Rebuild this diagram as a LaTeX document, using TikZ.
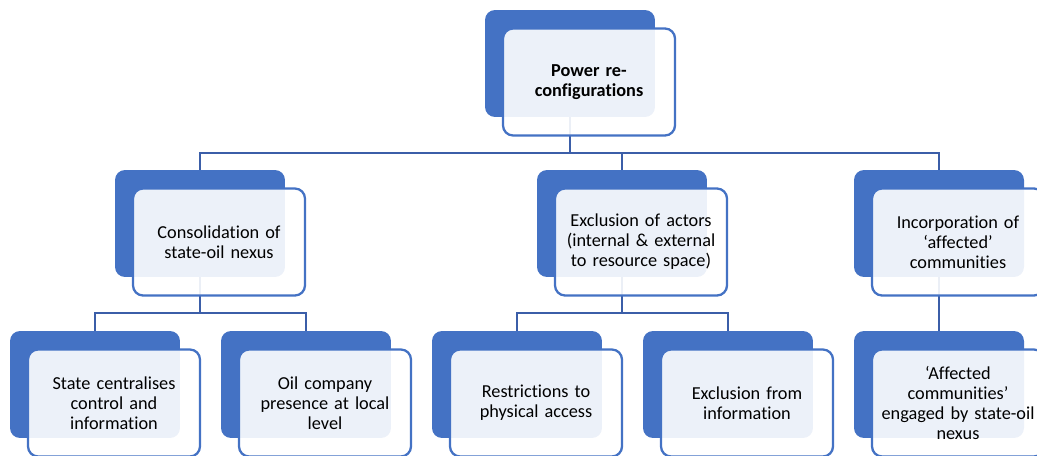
\documentclass[tikz,border=0pt]{standalone}
\usepackage{fontspec}
\setmainfont{Carlito}[Ligatures=NoCommon]
\usepackage{xcolor}
\usetikzlibrary{backgrounds}

\definecolor{accent}{HTML}{4472C4}
\definecolor{linkblue}{HTML}{3B5EA8}

\tikzset{
  backbox/.style={fill=accent, rounded corners=0.2cm, inner sep=0pt,
    minimum width=3.4cm, minimum height=2.14cm},
  frontbox/.style={draw=accent, line width=1.3pt, fill=white, fill opacity=0.9,
    text opacity=1, rounded corners=0.2cm, inner sep=0pt,
    minimum width=3.44cm, minimum height=2.14cm, text width=3.1cm, align=center,
    font=\fontsize{10.4}{11.4}\selectfont},
  rootbox/.style={frontbox, font=\fontsize{10.4}{11.4}\selectfont\bfseries},
  link/.style={draw=linkblue, line width=1.3pt}
}

\begin{document}
\begin{tikzpicture}[x=0.02cm, y=-0.02cm]
\useasboundingbox (0,0) rectangle (1037,456);

% top
\node[backbox] (root-b) at (570,63.5) {};
\node[rootbox] (root) at (589,82) {Power re-\\configurations};

% second row
\node[backbox] (cons-b) at (200,223.5) {};
\node[frontbox] (cons) at (219,242) {Consolidation of\\state-oil nexus};
\node[backbox] (excl-b) at (622,223.5) {};
\node[frontbox] (excl) at (641,242) {Exclusion of actors\\(internal \& external\\to resource space)};
\node[backbox] (inc-b) at (939,223.5) {};
\node[frontbox] (inc) at (958,242) {Incorporation of\\`affected'\\communities};

% third row
\node[backbox] (state-b) at (95,384.5) {};
\node[frontbox] (state) at (114,403) {State centralises\\control and\\information};
\node[backbox] (oil-b) at (306,384.5) {};
\node[frontbox] (oil) at (325,403) {Oil company\\presence at local\\level};
\node[backbox] (restr-b) at (517,384.5) {};
\node[frontbox] (restr) at (536,403) {Restrictions to\\physical access};
\node[backbox] (info-b) at (728,384.5) {};
\node[frontbox] (info) at (747,403) {Exclusion from\\information};
\node[backbox] (aff-b) at (939,384.5) {};
\node[frontbox] (aff) at (958,403) {`Affected\\communities'\\engaged by state-oil\\nexus};

% bus levels
\coordinate (bus1) at (0,153);
\coordinate (bus2) at (0,313);

\begin{pgfonlayer}{background}
  \draw[link] (root-b.center) |- (bus1 -| cons-b) -- (cons-b.north);
  \draw[link] (root-b.center) |- (bus1 -| excl-b) -- (excl-b.north);
  \draw[link] (root-b.center) |- (bus1 -| inc-b) -- (inc-b.north);

  \draw[link] (cons-b.center) |- (bus2 -| state-b) -- (state-b.north);
  \draw[link] (cons-b.center) |- (bus2 -| oil-b) -- (oil-b.north);
  \draw[link] (excl-b.center) |- (bus2 -| restr-b) -- (restr-b.north);
  \draw[link] (excl-b.center) |- (bus2 -| info-b) -- (info-b.north);
  \draw[link] (inc-b.center) -- (aff-b.north);
\end{pgfonlayer}
\end{tikzpicture}
\end{document}
